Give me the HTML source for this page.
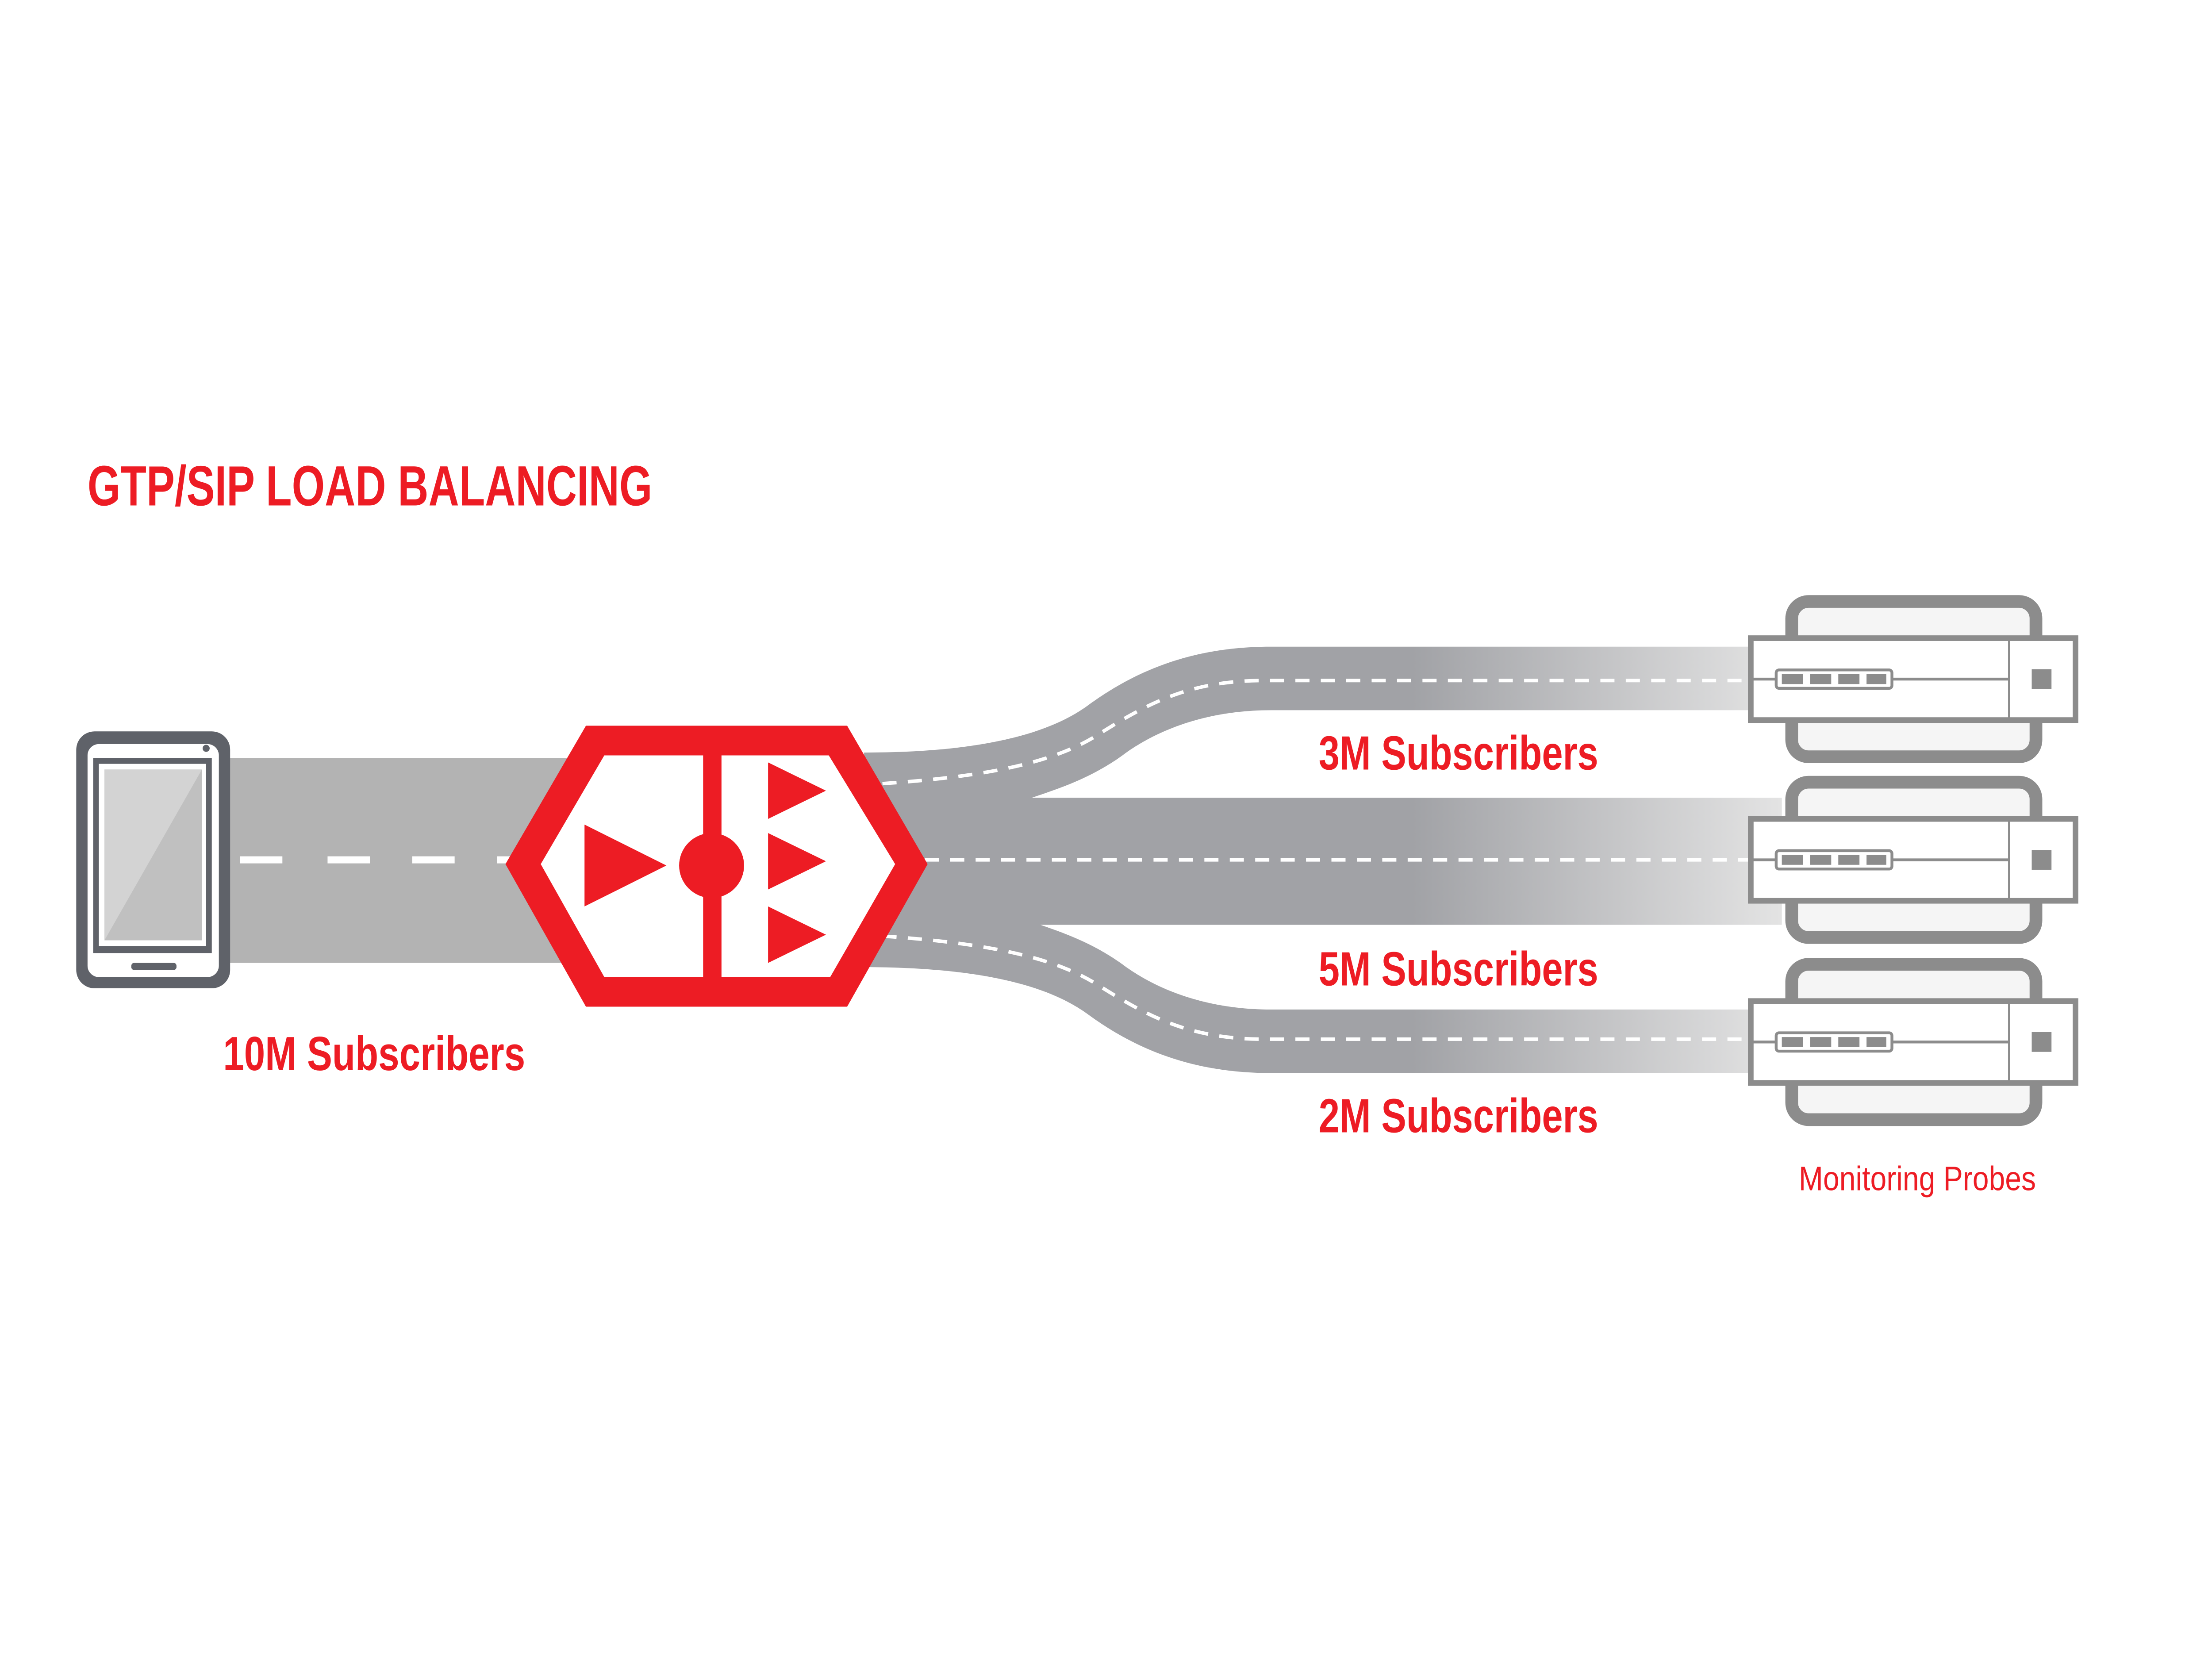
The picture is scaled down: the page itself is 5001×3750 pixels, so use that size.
<!DOCTYPE html>
<html><head><meta charset="utf-8"><style>
html,body{margin:0;padding:0;background:#fff}
svg{display:block}
text{font-family:"Liberation Sans Narrow","Liberation Sans",sans-serif;fill:#ed1c24}
</style></head><body>
<svg width="5001" height="3750" viewBox="0 0 1567 1175" preserveAspectRatio="none" xmlns="http://www.w3.org/2000/svg">
<defs>
<linearGradient id="g" gradientUnits="userSpaceOnUse" x1="1000" y1="0" x2="1265" y2="0">
<stop offset="0" stop-color="#a1a2a6"/><stop offset="1" stop-color="#e4e4e4"/>
</linearGradient>
<g id="probe">
<rect x="1269" y="-55" width="173" height="110" rx="12" fill="#f5f5f5" stroke="#8c8c8c" stroke-width="9"/>
<rect x="1240" y="-29" width="230" height="58" fill="#fff" stroke="#8c8c8c" stroke-width="4"/>
<line x1="1423" y1="-29" x2="1423" y2="29" stroke="#8c8c8c" stroke-width="1.5"/>
<line x1="1240" y1="0" x2="1423" y2="0" stroke="#8c8c8c" stroke-width="2"/>
<rect x="1258" y="-6.5" width="82" height="13" rx="2" fill="#fff" stroke="#8c8c8c" stroke-width="2"/>
<rect x="1262" y="-3.5" width="15" height="7" fill="#8c8c8c"/>
<rect x="1282" y="-3.5" width="15" height="7" fill="#8c8c8c"/>
<rect x="1302" y="-3.5" width="15" height="7" fill="#8c8c8c"/>
<rect x="1322" y="-3.5" width="14" height="7" fill="#8c8c8c"/>
<rect x="1439" y="-7" width="14" height="14" fill="#8c8c8c"/>
</g>
<g id="branch">
<path d="M612 533 C700 533 745 518 770 500 C800 478 840 458 900 458 L1262 458 L1262 503 L900 503 C850 503 815 520 795 535 C770 553 745 560 725 567 L612 567 Z" fill="url(#g)"/>
<path d="M625 555 C700 550 745 540 775 522 C810 500 840 482 895 482 L1240 482" fill="none" stroke="#fff" stroke-width="2.5" stroke-dasharray="10 8"/>
</g>
</defs>
<text x="62" y="358" font-size="40" font-weight="bold" textLength="400" lengthAdjust="spacingAndGlyphs">GTP/SIP LOAD BALANCING</text>
<rect x="160" y="537" width="255" height="145" fill="#b3b3b3"/>
<g fill="#fff"><rect x="170" y="606.5" width="30" height="5"/><rect x="232" y="606.5" width="30" height="5"/><rect x="292" y="606.5" width="30" height="5"/><rect x="352" y="606.5" width="10" height="5"/></g>
<rect x="54" y="518" width="109" height="182" rx="13" fill="#5f6269"/>
<rect x="62" y="527" width="93" height="165" rx="8" fill="#fff"/>
<rect x="66" y="537" width="84" height="138" fill="#5f6269"/>
<rect x="70" y="541" width="76" height="129" fill="#fff"/>
<rect x="74" y="545" width="69" height="121" fill="#c0c0c0"/>
<polygon points="74,545 143,545 74,666" fill="#d3d3d3"/>
<rect x="93" y="682" width="32" height="5" rx="2" fill="#5f6269"/>
<circle cx="146" cy="530" r="2.5" fill="#5f6269"/>
<rect x="612" y="565" width="650" height="90" fill="url(#g)"/>
<line x1="655" y1="609" x2="1240" y2="609" stroke="#fff" stroke-width="2.5" stroke-dasharray="10 8"/>
<use href="#branch"/>
<use href="#branch" transform="translate(0,1218) scale(1,-1)"/>
<polygon points="358,612 415,514 600,514 657,612 600,713 415,713" fill="#ed1c24"/>
<polygon points="383,612 428,535 587,535 634,612 588,692 428,692" fill="#fff"/>
<rect x="498" y="535" width="13" height="157" fill="#ed1c24"/>
<circle cx="504" cy="613" r="23" fill="#ed1c24"/>
<polygon points="414,584 414,642 472,613" fill="#ed1c24"/>
<polygon points="544,540 544,580 585,560" fill="#ed1c24"/>
<polygon points="544,590 544,630 585,610" fill="#ed1c24"/>
<polygon points="544,642 544,682 585,662" fill="#ed1c24"/>
<use href="#probe" transform="translate(0,481)"/>
<use href="#probe" transform="translate(0,609)"/>
<use href="#probe" transform="translate(0,738)"/>
<text x="934" y="545" font-size="34" font-weight="bold" textLength="198" lengthAdjust="spacingAndGlyphs">3M Subscribers</text>
<text x="934" y="698" font-size="34" font-weight="bold" textLength="198" lengthAdjust="spacingAndGlyphs">5M Subscribers</text>
<text x="934" y="802" font-size="34" font-weight="bold" textLength="198" lengthAdjust="spacingAndGlyphs">2M Subscribers</text>
<text x="158" y="758" font-size="34" font-weight="bold" textLength="214" lengthAdjust="spacingAndGlyphs">10M Subscribers</text>
<text x="1274" y="843" font-size="24" textLength="168" lengthAdjust="spacingAndGlyphs">Monitoring Probes</text>
</svg>
</body></html>
